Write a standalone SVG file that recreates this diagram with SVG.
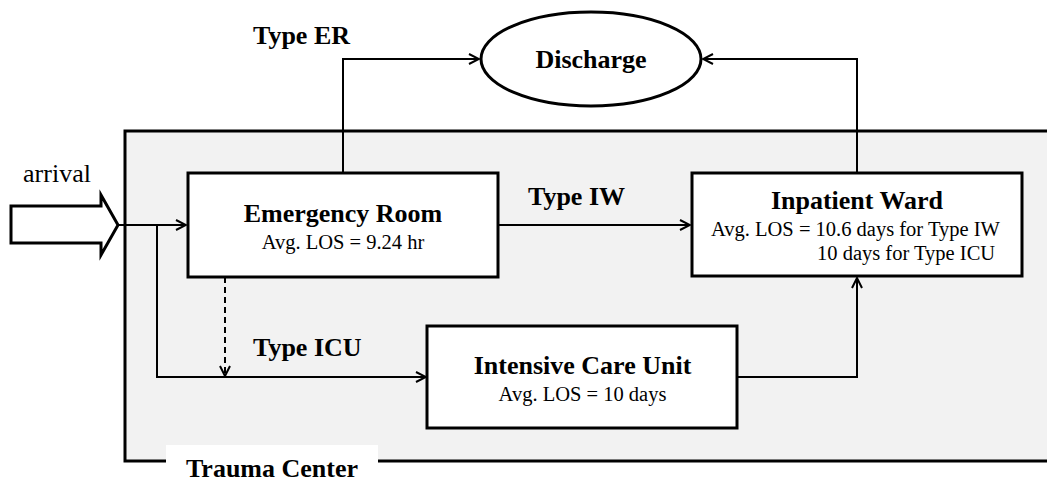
<svg xmlns="http://www.w3.org/2000/svg" width="1047" height="481" viewBox="0 0 1047 481">
<style>
.box{fill:#fff;stroke:#000;stroke-width:3}
.b{font-family:"Liberation Serif",serif;font-weight:bold;font-size:26px;fill:#000}
.r{font-family:"Liberation Serif",serif;font-size:20.5px;fill:#000}
.c{fill:none;stroke:#000;stroke-width:2}
</style>
<defs>
<marker id="ah" viewBox="0 0 12 12" refX="11" refY="6" markerWidth="12" markerHeight="12" markerUnits="userSpaceOnUse" orient="auto">
<path d="M1,1 L11,6 L1,11" fill="none" stroke="#000" stroke-width="2"/>
</marker>
</defs>
<rect width="1047" height="481" fill="#fff"/>
<g id="trauma-center">
<path d="M1050,131 H125 V461 H1050" fill="#f2f2f2" stroke="#000" stroke-width="3"/>
<rect x="166" y="445" width="212" height="36" fill="#fff"/>
<text class="b" x="272" y="477" text-anchor="middle">Trauma Center</text>
</g>
<g id="connectors">
<path class="c" d="M118,225 H186" marker-end="url(#ah)"/>
<path class="c" d="M157,225 V377 H426" marker-end="url(#ah)"/>
<path class="c" d="M225,277 V376" stroke-dasharray="6,4" marker-end="url(#ah)"/>
<path class="c" d="M498,225 H690" marker-end="url(#ah)"/>
<path class="c" d="M737,377 H857 V278" marker-end="url(#ah)"/>
<path class="c" d="M343,173 V59 H479" marker-end="url(#ah)"/>
<path class="c" d="M857,173 V59 H703" marker-end="url(#ah)"/>
</g>
<g id="arrival">
<polygon points="11,206 101,206 101,195 118,225 101,255 101,243 11,243" fill="#fff" stroke="#000" stroke-width="3"/>
<text class="r" x="57" y="182" text-anchor="middle" style="font-size:26px">arrival</text>
</g>
<g id="labels">
<text class="b" x="253" y="44">Type ER</text>
<text class="b" x="528" y="205">Type IW</text>
<text class="b" x="253" y="356">Type ICU</text>
</g>
<g id="discharge">
<ellipse cx="591" cy="59" rx="110" ry="47" fill="#fff" stroke="#000" stroke-width="3"/>
<text class="b" x="591" y="68" text-anchor="middle">Discharge</text>
</g>
<g id="emergency-room">
<rect class="box" x="188" y="173" width="310" height="104"/>
<text class="b" x="343" y="222" text-anchor="middle">Emergency Room</text>
<text class="r" x="343" y="249" text-anchor="middle">Avg. LOS = 9.24 hr</text>
</g>
<g id="inpatient-ward">
<rect class="box" x="692" y="173" width="330" height="103"/>
<text class="b" x="857" y="209" text-anchor="middle">Inpatient Ward</text>
<text class="r" x="711" y="236">Avg. LOS = 10.6 days for Type IW</text>
<text class="r" x="817" y="260">10 days for Type ICU</text>
</g>
<g id="icu">
<rect class="box" x="427" y="326" width="310" height="102"/>
<text class="b" x="582.5" y="374" text-anchor="middle">Intensive Care Unit</text>
<text class="r" x="582.5" y="401" text-anchor="middle">Avg. LOS = 10 days</text>
</g>
</svg>
